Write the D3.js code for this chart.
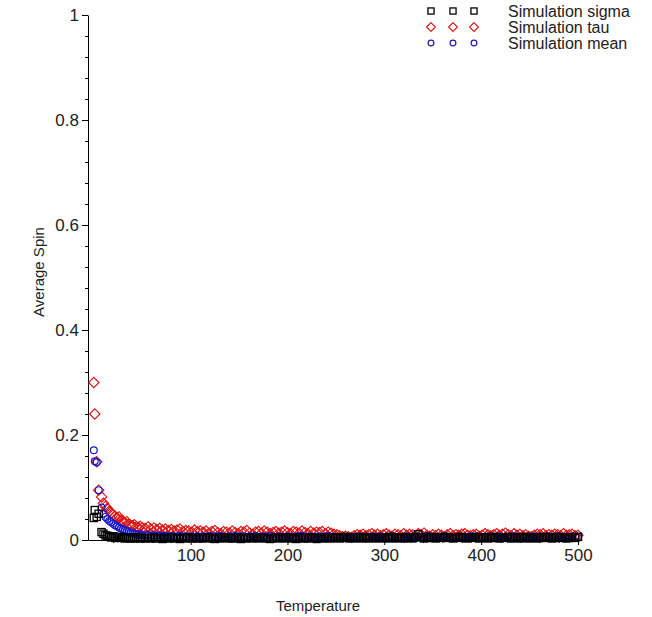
<!DOCTYPE html>
<html><head><meta charset="utf-8">
<script src="https://cdn.jsdelivr.net/npm/d3@7/dist/d3.min.js"></script>
<style>body{margin:0;background:#fff}svg{display:block}</style>
</head><body>
<svg id="chart" width="652" height="617"></svg>
<script>
const temps = [0,1,3,5,8,10,12,14,16,18,20,22,24,26,28,30,32,34,36,38,40,42,44,46,48,50,
  53,56,59,62,65,68,71,74,77,80,83,86,89,92,95,98,101,104,107,110,
  113,116,119,122,125,128,131,134,137,140,
  143,146,149,152,155,158,161,164,167,170,
  173,176,179,182,185,188,191,194,197,200,
  203,206,209,212,215,218,221,224,227,230,
  233,236,239,242,245,248,251,254,257,260,
  263,266,269,272,275,278,281,284,287,290,
  293,296,299,302,305,308,311,314,317,320,
  323,326,329,332,335,338,341,344,347,350,
  353,356,359,362,365,368,371,374,377,380,
  383,386,389,392,395,398,401,404,407,410,
  413,416,419,422,425,428,431,434,437,440,
  443,446,449,452,455,458,461,464,467,470,
  473,476,479,482,485,488,491,494,497,500];
const tauVals = [.300,.240,.149,.095,.082,.070,.064,.060,.055,.052,.048,.045,.042,.044,.038,.036,.033,.035,.030,.028,.027,.029,.025,.024,.026,.023,
  .022,.025,.021,.023,.020,.022,.019,.021,.018,.020,.017,.019,.021,.016,.018,.017,.015,.019,.016,.017,
  .015,.017,.013,.016,.018,.014,.012,.016,.015,.013,
  .017,.014,.012,.016,.015,.018,.013,.011,.015,.016,
  .013,.017,.015,.012,.014,.016,.013,.015,.017,.014,
  .012,.016,.015,.013,.017,.014,.012,.016,.013,.015,
  .014,.016,.012,.015,.013,.011,.010,.008,.006,.007,
  .006,.005,.008,.010,.009,.011,.008,.010,.012,.009,
  .011,.008,.010,.012,.009,.007,.011,.010,.008,.012,
  .009,.011,.010,.008,.012,.010,.013,.009,.007,.010,
  .008,.011,.009,.006,.010,.012,.008,.010,.009,.011,
  .012,.009,.008,.010,.011,.007,.009,.012,.010,.008,
  .010,.012,.009,.011,.013,.010,.008,.012,.009,.011,
  .008,.010,.007,.006,.009,.011,.010,.012,.008,.010,
  .009,.011,.010,.008,.012,.009,.010,.011,.008,.009];
const meanVals = [.171,.150,.148,.095,.062,.050,.044,.040,.036,.034,.031,.028,.026,.024,.022,.020,.019,.017,.016,.014,.013,.012,.011,.010,.011,.009,
  .009,.010,.008,.009,.008,.009,.007,.008,.007,.008,.006,.007,.008,.006,.007,.006,.007,.006,.007,.006,
  .007,.006,.008,.005,.007,.006,.008,.005,.006,.007,
  .006,.008,.005,.007,.006,.005,.007,.006,.008,.005,
  .006,.007,.005,.008,.006,.005,.007,.006,.005,.007,
  .006,.005,.007,.006,.008,.005,.006,.007,.005,.006,
  .007,.005,.006,.008,.005,.006,.004,.005,.006,.005,
  .004,.006,.005,.007,.005,.004,.006,.005,.007,.006,
  .005,.007,.004,.006,.005,.007,.006,.004,.005,.006,
  .007,.005,.006,.004,.006,.005,.007,.008,.005,.006,
  .004,.006,.005,.007,.006,.004,.005,.006,.007,.005,
  .006,.004,.007,.005,.006,.005,.004,.006,.007,.005,
  .005,.006,.007,.005,.004,.006,.005,.007,.006,.005,
  .006,.005,.004,.006,.007,.005,.006,.004,.005,.007,
  .005,.006,.007,.005,.004,.006,.005,.007,.006,.005];
const sigmaVals = [.042,.057,.044,.050,.015,.012,.009,.008,.006,.005,.007,.004,.005,.006,.004,.005,.003,.004,.005,.003,.004,.003,.005,.004,.003,.004,
  .003,.004,.003,.005,.003,.004,.002,.004,.003,.005,.003,.004,.002,.004,.003,.005,.003,.004,.003,.004,
  .003,.004,.005,.003,.002,.004,.003,.005,.004,.003,
  .004,.003,.005,.002,.004,.003,.005,.004,.003,.004,
  .005,.003,.004,.002,.003,.005,.004,.003,.004,.005,
  .003,.004,.002,.005,.003,.004,.003,.005,.004,.002,
  .004,.003,.005,.004,.003,.004,.005,.003,.005,.006,
  .004,.003,.005,.004,.003,.006,.004,.003,.005,.004,
  .003,.005,.004,.003,.006,.004,.003,.005,.004,.003,
  .005,.004,.003,.006,.011,.005,.003,.004,.006,.004,
  .003,.005,.004,.006,.005,.004,.003,.005,.004,.006,
  .004,.003,.005,.004,.006,.003,.004,.005,.003,.004,
  .006,.004,.003,.005,.004,.006,.003,.004,.005,.003,
  .004,.006,.003,.004,.005,.003,.004,.006,.004,.005,
  .003,.004,.006,.004,.005,.003,.004,.005,.004,.006];
const seriesNames = ["Simulation sigma","Simulation tau","Simulation mean"];
const xTicks = [100,200,300,400,500];
const xMinorTicks = [20,40,60,80,120,140,160,180,220,240,260,280,320,340,360,380,420,440,460,480];
const yTicks = [0,0.2,0.4,0.6,0.8,1];
const yTickLabels = ["0","0.2","0.4","0.6","0.8","1"];
const yMinorTicks = [0.04,0.08,0.12,0.16,0.24,0.28,0.32,0.36,0.44,0.48,0.52,0.56,0.64,0.68,0.72,0.76,0.84,0.88,0.92,0.96];

const FONT = "'Liberation Sans', Arial, sans-serif";
const svg = d3.select("#chart");
svg.append("rect").attr("width",652).attr("height",617).attr("fill","#fff");

const x = d3.scaleLinear().domain([-6,500]).range([88,578]);
const y = d3.scaleLinear().domain([0,1]).range([540,15]);

const colors = {sigma:"#000000", tau:"#dd1111", mean:"#1a1acc"};

function drawSymbol(g, kind, cx, cy, s){
  s = s || 1;
  if(kind==="sigma"){
    const h = 3.6*s;
    g.append("rect").attr("x",cx-h).attr("y",cy-h).attr("width",2*h).attr("height",2*h)
      .attr("fill","none").attr("stroke",colors.sigma).attr("stroke-width",1.3);
  } else if(kind==="tau"){
    const h = 5.2*s;
    g.append("path").attr("d",`M${cx},${cy-h}L${cx+h},${cy}L${cx},${cy+h}L${cx-h},${cy}Z`)
      .attr("fill","none").attr("stroke",colors.tau).attr("stroke-width",1.1);
  } else {
    g.append("circle").attr("cx",cx).attr("cy",cy).attr("r",3.4*s)
      .attr("fill","none").attr("stroke",colors.mean).attr("stroke-width",1.2);
  }
}

// axes
svg.append("g").attr("transform","translate(88,0)")
  .call(d3.axisLeft(y).tickValues(yTicks).tickFormat((d,i)=>yTickLabels[i]).tickSize(6).tickSizeOuter(0).tickPadding(3));
svg.append("g").attr("transform","translate(88,0)")
  .call(d3.axisLeft(y).tickValues(yMinorTicks).tickFormat("").tickSize(3).tickSizeOuter(0))
  .select(".domain").remove();
svg.append("g").attr("transform","translate(0,540)")
  .call(d3.axisBottom(x).tickValues(xTicks).tickSize(5).tickSizeOuter(0).tickPadding(4));
svg.append("g").attr("transform","translate(0,540)")
  .call(d3.axisBottom(x).tickValues(xMinorTicks).tickFormat("").tickSize(3).tickSizeOuter(0))
  .select(".domain").remove();
svg.selectAll(".tick text").attr("font-family",FONT).attr("font-size",17).attr("fill","#222");
svg.selectAll(".domain, .tick line").attr("stroke","#000").attr("stroke-width",1);

// data
const plotG = svg.append("g");
["tau","mean","sigma"].forEach(kind=>{
  const vals = kind==="tau"?tauVals:(kind==="mean"?meanVals:sigmaVals);
  temps.forEach((t,i)=>drawSymbol(plotG, kind, x(t), y(vals[i])));
});

// axis titles
svg.append("text").attr("x",318).attr("y",605).attr("text-anchor","middle")
  .attr("dominant-baseline","central").attr("font-family",FONT).attr("font-size",15).attr("fill","#222")
  .text("Temperature");
svg.append("text").attr("transform","translate(38,272) rotate(-90)").attr("text-anchor","middle")
  .attr("dominant-baseline","central").attr("font-family",FONT).attr("font-size",15).attr("fill","#222")
  .text("Average Spin");

// legend
const legG = svg.append("g");
const legKinds = ["sigma","tau","mean"];
const legRowY = [11,27,43];
const legSymX = [431,453,474];
legKinds.forEach((k,i)=>{
  legSymX.forEach(sx=>drawSymbol(legG,k,sx,legRowY[i],0.85));
  legG.append("text").attr("x",508).attr("y",legRowY[i]).attr("dominant-baseline","central")
    .attr("font-family",FONT).attr("font-size",16).attr("fill","#222").text(seriesNames[i]);
});
</script>
</body></html>
